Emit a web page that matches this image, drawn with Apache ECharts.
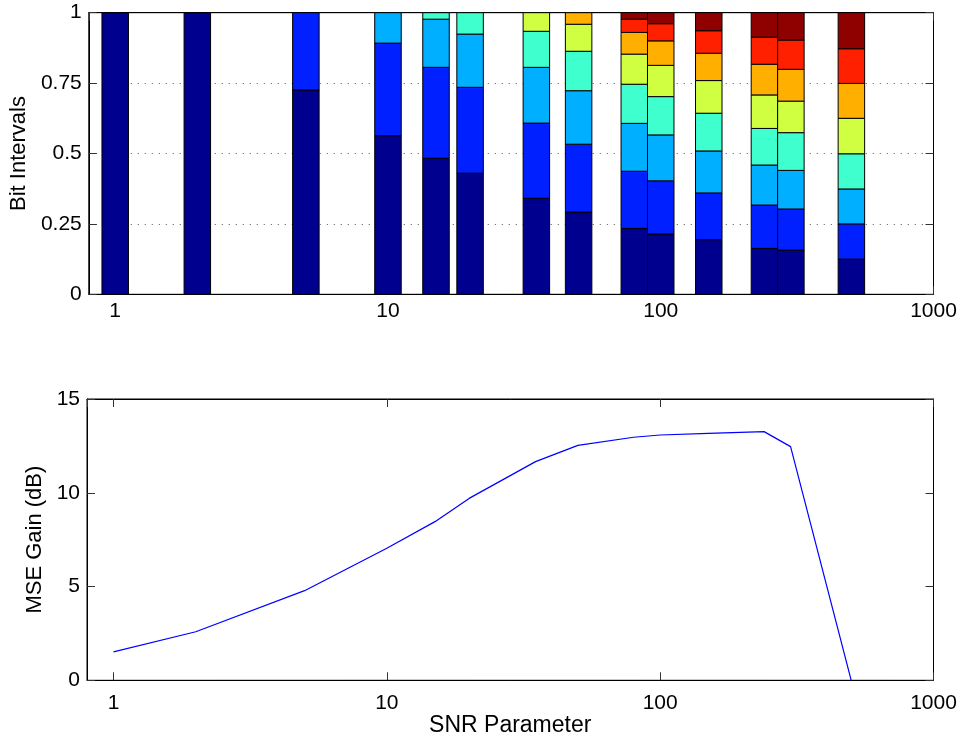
<!DOCTYPE html>
<html><head><meta charset="utf-8">
<script src="https://cdn.jsdelivr.net/npm/echarts@6/dist/echarts.min.js"></script>
<style>html,body{margin:0;padding:0;background:#fff}#c{width:964px;height:741px}</style>
</head><body><div id="c"></div>
<script>
// SNR parameter values (x positions of bars and line points)
const snr = [1, 2, 5, 10, 15, 20, 35, 50, 80, 100, 150, 240, 300, 500];
// MSE gain (dB) for the bottom panel
const gain = [1.52, 2.59, 4.78, 7.04, 8.46, 9.7, 11.66, 12.53, 12.96, 13.08, 13.17, 13.26, 12.46, 0];
// Bit interval fractions, one array per stacked level (bottom to top)
const level1 = [1, 1, 0.7255, 0.563, 0.483, 0.430, 0.341, 0.292, 0.234, 0.214, 0.194, 0.163, 0.157, 0.125];
const level2 = [0, 0, 0.2745, 0.329, 0.323, 0.305, 0.267, 0.241, 0.203, 0.189, 0.166, 0.154, 0.146, 0.125];
const level3 = [0, 0, 0, 0.108, 0.171, 0.189, 0.198, 0.190, 0.170, 0.163, 0.149, 0.142, 0.137, 0.124];
const level4 = [0, 0, 0, 0, 0.023, 0.076, 0.128, 0.140, 0.139, 0.136, 0.134, 0.130, 0.134, 0.125];
const level5 = [0, 0, 0, 0, 0, 0, 0.066, 0.096, 0.107, 0.111, 0.116, 0.119, 0.112, 0.126];
const level6 = [0, 0, 0, 0, 0, 0, 0, 0.041, 0.077, 0.087, 0.097, 0.109, 0.113, 0.124];
const level7 = [0, 0, 0, 0, 0, 0, 0, 0, 0.047, 0.061, 0.080, 0.096, 0.104, 0.123];
const level8 = [0, 0, 0, 0, 0, 0, 0, 0, 0.023, 0.039, 0.064, 0.087, 0.097, 0.128];
const levels = [level1, level2, level3, level4, level5, level6, level7, level8];
const levelColors = ['#00008F', '#0020FF', '#00AFFF', '#40FFCF', '#CFFF40', '#FFAF00', '#FF2000', '#8F0000'];
const xTickValues = [1, 10, 100, 1000];

const FONT = 'Liberation Sans, Arial, Helvetica, sans-serif';
const BAR_W = 26.5;

// build stacked segments
const segData = [];
snr.forEach((x, i) => {
  let base = 0;
  levels.forEach((lv, k) => {
    const v = lv[i];
    if (v > 0) {
      segData.push([x, base, Math.min(1, base + v), k]);
      base += v;
    }
  });
});

function xLabel(v) {
  for (const t of xTickValues) { if (Math.abs(v - t) / t < 1e-6) return String(t); }
  return '';
}

function xAx(grid, pos, labels) {
  return {
    type: 'log', logBase: 10, gridIndex: grid, position: pos, min: 0.8, max: 1000,
    axisLine: { show: true, onZero: false, lineStyle: { color: '#000', width: 1 } },
    axisTick: { show: true, inside: true, length: 8, lineStyle: { color: '#333' } },
    axisLabel: { show: labels, formatter: xLabel, fontSize: 21, color: '#000', fontFamily: FONT, margin: grid === 0 ? 6 : 12, showMinLabel: false },
    splitLine: { show: false }, minorTick: { show: false }
  };
}

const option = {
  animation: false,
  backgroundColor: '#fff',
  grid: [
    { left: 87, top: 12.7, width: 846.5, height: 281.6, show: true, borderColor: '#000', borderWidth: 1 },
    { left: 87, top: 399, width: 846.5, height: 281.3, show: true, borderColor: '#000', borderWidth: 1 }
  ],
  xAxis: [
    xAx(0, 'bottom', true),
    xAx(0, 'top', false),
    Object.assign(xAx(1, 'bottom', true), {
      name: 'SNR Parameter', nameLocation: 'middle', nameGap: 15,
      nameTextStyle: { fontSize: 23, color: '#000', fontFamily: FONT }
    }),
    xAx(1, 'top', false)
  ],
  yAxis: [
    {
      type: 'value', gridIndex: 0, min: 0, max: 1, interval: 0.25, position: 'left',
      name: 'Bit Intervals', nameLocation: 'middle', nameRotate: 90, nameGap: 52,
      nameTextStyle: { fontSize: 22, color: '#000', fontFamily: FONT },
      axisLine: { show: true, lineStyle: { color: '#000' } },
      axisTick: { show: true, inside: true, length: 8, lineStyle: { color: '#333' } },
      axisLabel: { fontSize: 21, color: '#000', fontFamily: FONT, margin: 7 },
      splitLine: { show: true, lineStyle: { color: '#555', type: [1, 6], width: 1 } }
    },
    {
      type: 'value', gridIndex: 0, min: 0, max: 1, interval: 0.25, position: 'right',
      axisLine: { show: true, lineStyle: { color: '#000' } },
      axisTick: { show: true, inside: true, length: 8, lineStyle: { color: '#333' } },
      axisLabel: { show: false }, splitLine: { show: false }
    },
    {
      type: 'value', gridIndex: 1, min: 0, max: 15, interval: 5, position: 'left',
      name: 'MSE Gain (dB)', nameLocation: 'middle', nameRotate: 90, nameGap: 30,
      nameTextStyle: { fontSize: 22, color: '#000', fontFamily: FONT },
      axisLine: { show: true, lineStyle: { color: '#000' } },
      axisTick: { show: true, inside: true, length: 8, lineStyle: { color: '#333' } },
      axisLabel: { fontSize: 21, color: '#000', fontFamily: FONT, margin: 7 },
      splitLine: { show: false }
    },
    {
      type: 'value', gridIndex: 1, min: 0, max: 15, interval: 5, position: 'right',
      axisLine: { show: true, lineStyle: { color: '#000' } },
      axisTick: { show: true, inside: true, length: 8, lineStyle: { color: '#333' } },
      axisLabel: { show: false }, splitLine: { show: false }
    }
  ],
  series: [
    {
      type: 'custom', xAxisIndex: 0, yAxisIndex: 0,
      data: segData,
      encode: { x: 0, y: [1, 2] },
      renderItem: function (params, api) {
        const x = api.value(0), y0 = api.value(1), y1 = api.value(2), lv = api.value(3);
        const p0 = api.coord([x, y0]);
        const p1 = api.coord([x, y1]);
        return {
          type: 'rect',
          shape: { x: p0[0] - BAR_W / 2, y: p1[1], width: BAR_W, height: p0[1] - p1[1] },
          style: { fill: levelColors[lv], stroke: '#000', lineWidth: 1 }
        };
      }
    },
    {
      type: 'line', xAxisIndex: 2, yAxisIndex: 2,
      data: snr.map((x, i) => [x, gain[i]]),
      showSymbol: false, symbol: 'none',
      lineStyle: { color: '#0000FF', width: 1.2 },
      clip: true
    }
  ]
};

const chart = echarts.init(document.getElementById('c'), null, { renderer: 'canvas' });
chart.setOption(option);
</script>
</body></html>
